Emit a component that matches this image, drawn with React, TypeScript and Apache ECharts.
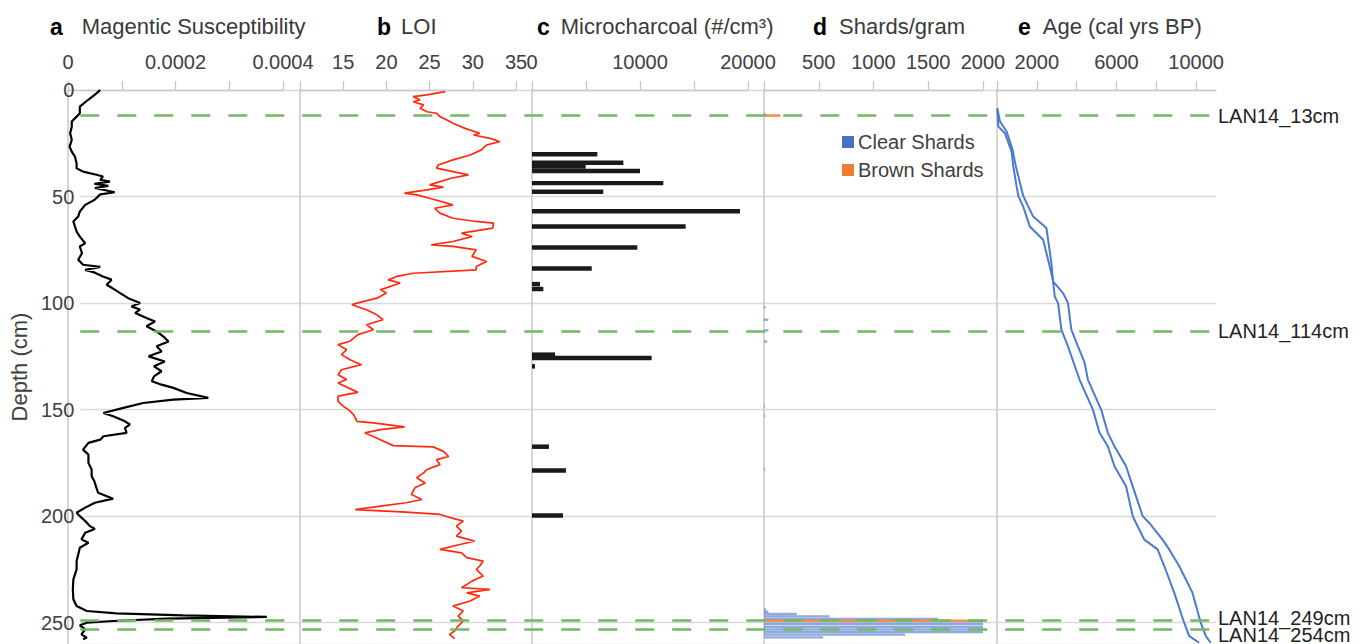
import React, { useEffect, useRef } from 'react';
import * as echarts from 'echarts';

const FONT = "'Liberation Sans', Arial, sans-serif";

// Depth axis
const depthTicks = [0, 50, 100, 150, 200, 250];

// a: Magnetic susceptibility
const msDepth = [0, 1.6, 4.7, 7.8, 10.9, 12.5, 14.8, 17.2, 20.3, 23.4, 26.6, 28.9, 31.3, 34.4, 36.7, 38.3, 39.8, 40.6, 42.2, 43, 44, 45, 46, 48, 49, 51.6, 53.9, 57, 59.4, 61.7, 64.1, 66.4, 68.8, 71.9, 73.4, 76.6, 79.7, 82, 83, 84.4, 85.6, 87.5, 89, 91.4, 93.7, 95.3, 97.7, 100, 101.6, 103, 104.7, 107, 108.6, 110.9, 113.3, 115.6, 118, 120.3, 122.7, 125, 127.4, 129.7, 132, 134.4, 136.7, 138.3, 139.8, 142.2, 144.5, 145.3, 146.9, 149.2, 151.6, 153.1, 155.5, 157, 158.6, 160.9, 162.5, 164.1, 165.6, 168.8, 171.1, 175, 178.1, 181.3, 183.6, 186, 189, 191.8, 193.7, 196, 198.4, 200, 202.3, 204.7, 206, 207.8, 210.9, 212.5, 214.8, 218, 221.1, 225, 229.7, 234.4, 239, 242.2, 244.5, 245.6, 246.6, 247.3, 248.1, 249.2, 250, 251.2, 253.1, 255.5, 257, 257.8];
const msValue = [6.0e-5, 5.3e-5, 3.7e-5, 2.2e-5, 2.2e-5, 1.6e-5, 0.7e-5, 0.7e-5, 0.4e-5, 0.7e-5, 0.3e-5, 0.7e-5, 1.3e-5, 1.6e-5, 1.6e-5, 2.8e-5, 5.3e-5, 6.5e-5, 6.0e-5, 7.8e-5, 4.9e-5, 7.5e-5, 5.0e-5, 8.7e-5, 6.0e-5, 4.9e-5, 3.2e-5, 2.2e-5, 1.9e-5, 1.0e-5, 1.3e-5, 1.6e-5, 2.2e-5, 3.2e-5, 2.2e-5, 2.6e-5, 1.9e-5, 2.8e-5, 6.0e-5, 3.2e-5, 4.9e-5, 6.5e-5, 8.1e-5, 7.2e-5, 8.7e-5, 9.7e-5, 11.2e-5, 13.4e-5, 11.8e-5, 13.4e-5, 12.5e-5, 14.6e-5, 16.2e-5, 14.6e-5, 16.5e-5, 17.7e-5, 18.7e-5, 16.5e-5, 17.4e-5, 15.0e-5, 18.0e-5, 16.0e-5, 17.4e-5, 16.0e-5, 15.6e-5, 17.4e-5, 19.6e-5, 22.1e-5, 26.1e-5, 19.6e-5, 14.0e-5, 10.3e-5, 6.6e-5, 8.4e-5, 10.6e-5, 11.5e-5, 10.6e-5, 10.9e-5, 6.6e-5, 6.0e-5, 3.8e-5, 2.8e-5, 3.8e-5, 3.8e-5, 4.4e-5, 4.4e-5, 4.9e-5, 5.2e-5, 5.6e-5, 8.4e-5, 5.0e-5, 3.2e-5, 1.6e-5, 2.2e-5, 3.2e-5, 4.1e-5, 5.0e-5, 3.2e-5, 2.5e-5, 3.8e-5, 2.2e-5, 1.9e-5, 1.6e-5, 1.6e-5, 1.0e-5, 0.9e-5, 1.0e-5, 1.6e-5, 3.5e-5, 9.0e-5, 21.4e-5, 37.0e-5, 18.4e-5, 8.4e-5, 3.5e-5, 2.2e-5, 3.2e-5, 2.5e-5, 3.5e-5, 2.8e-5];
const msTicks = [0, 0.0001, 0.0002, 0.0003, 0.0004];
const msLabels = [0, 0.0002, 0.0004];

// b: LOI
const loiDepth = [0.8, 2.3, 3.1, 4.7, 5.5, 7.0, 8.6, 10.2, 10.9, 12.5, 14.1, 15.6, 18.0, 20.3, 21.1, 22.7, 24.2, 25.8, 28.1, 30.5, 32.8, 35.2, 36.7, 38.3, 39.8, 41.4, 44.5, 45.6, 46.9, 48.4, 49.2, 50.8, 53.9, 55.5, 57.8, 60.2, 61.7, 62.5, 64.8, 67.2, 68.8, 71.1, 72.7, 73.4, 75.0, 78.1, 80.5, 82.8, 84.4, 86.0, 87.5, 89.1, 90.6, 93.8, 95.3, 97.7, 100.0, 100.8, 103.1, 105.5, 107.8, 110.2, 112.5, 114.8, 117.9, 119.5, 121.9, 124.2, 126.6, 128.9, 131.3, 133.6, 135.9, 137.5, 139.8, 141.9, 143.7, 146.1, 148.4, 150, 152.3, 155.5, 156.2, 158.1, 159.4, 160.9, 164.1, 166.9, 167.5, 169.6, 172, 173.5, 175.8, 178.1, 179.7, 182, 184.4, 186.7, 189.8, 192.2, 193.7, 195.3, 196.9, 198.1, 199.2, 200.8, 202.3, 204.7, 207, 209.4, 211.7, 213.3, 215.6, 217.2, 219.5, 221.1, 223.4, 225, 228.1, 230.5, 233.6, 234.4, 236, 237.5, 239.8, 242.2, 244.5, 246.9, 249.2, 251.6, 253.9, 255.5, 257.5];
const loiValue = [26.8, 24.7, 23.1, 23.9, 23.1, 24.3, 23.9, 24.7, 25.8, 26.2, 27.0, 27.7, 29.1, 30.8, 30.1, 32.0, 33.1, 31.6, 31.0, 29.7, 27.7, 26.0, 25.8, 27.7, 29.5, 27.5, 25.0, 26.6, 24.7, 22.1, 23.5, 25.0, 27.7, 25.6, 26.2, 27.7, 30.4, 32.4, 32.3, 28.7, 29.9, 27.7, 25.2, 27.7, 30.4, 29.9, 31.6, 30.4, 30.4, 23.1, 21.2, 20.2, 21.6, 19.3, 20.0, 18.9, 16.6, 16.0, 17.7, 18.9, 19.6, 17.7, 18.5, 16.7, 15.8, 14.4, 15.4, 14.8, 15.8, 17.1, 14.8, 14.4, 15.4, 14.4, 15.6, 16.7, 14.4, 14.4, 15.0, 15.6, 16.2, 16.6, 18.5, 22.1, 19.3, 17.5, 19.3, 20.8, 25.4, 26.6, 27.2, 25.8, 26.2, 24.7, 24.3, 23.5, 24.5, 23.3, 22.9, 24.1, 22.3, 19.3, 16.4, 22.3, 26.2, 27.5, 28.9, 28.1, 28.7, 28.1, 30.2, 28.5, 26.2, 28.7, 29.3, 31.2, 30.8, 30.4, 31.2, 29.9, 28.7, 32.0, 29.3, 30.8, 29.7, 27.7, 28.9, 28.3, 28.9, 28.3, 27.9, 27.3, 27.9];
const loiTicks = [10, 15, 20, 25, 30, 35];
const loiLabels = [15, 20, 25, 30, 35];

// c: Microcharcoal
const charDepth = [30.2, 34.1, 35.9, 38.0, 43.7, 47.8, 56.9, 64.1, 73.9, 83.8, 91.1, 93.4, 124.2, 125.8, 129.7, 167.4, 178.6, 199.7];
const charValue = [6050, 8460, 4970, 10000, 12160, 6600, 19260, 14230, 9750, 5530, 740, 1050, 2130, 11080, 280, 1570, 3150, 2870];
const charTicks = [0, 5000, 10000, 15000, 20000];
const charLabels = [0, 10000, 20000];

// d: Shards/gram
const clearDepth = [11.5, 102, 107.8, 112.8, 118, 148.5, 153, 178, 243.8, 244.9, 245.9, 247, 248.2, 250.5, 251.9, 253.2, 254.4, 255.6, 256.9];
const clearValue = [20, 15, 40, 40, 30, 10, 10, 10, 20, 40, 300, 600, 1590, 2000, 2000, 2000, 2000, 1290, 540];
const brownDepth = [12, 249.1];
const brownValue = [150, 2000];
const shardTicks = [0, 500, 1000, 1500, 2000];
const shardLabels = [500, 1000, 1500, 2000];

// e: Age model (two bounds)
const youngDepth = [8.6, 17.2, 20.3, 28.9, 35.9, 49.7, 54.7, 59.4, 64.1, 70.3, 82.8, 89.8, 96.9, 100, 112.5, 120.3, 128, 136, 150, 160.9, 167.2, 176.6, 186, 200, 203.2, 211, 215.6, 223.4, 235.9, 250, 256.2, 259.4];
const youngAge = [17, 67, 400, 733, 817, 1067, 1317, 1483, 1650, 2317, 2650, 2817, 2900, 3067, 3233, 3567, 3850, 4150, 4817, 5150, 5567, 5900, 6483, 6817, 6983, 7400, 8067, 8400, 8900, 9400, 9650, 10150];
const oldDepth = [8.6, 14.8, 19.5, 28.1, 35.9, 49.7, 59.4, 64.8, 70.3, 81.3, 89.8, 95.3, 100, 112.5, 120.3, 128, 136, 150, 160.9, 167.2, 176.6, 186, 200, 203.2, 211, 215.6, 223.4, 235.9, 250, 256.2, 259.4];
const oldAge = [17, 150, 483, 783, 950, 1317, 1817, 2483, 2567, 2733, 2817, 3317, 3567, 3733, 4067, 4400, 4567, 5233, 5567, 5900, 6483, 6817, 7317, 7650, 8317, 8650, 9150, 9817, 10233, 10483, 10733];
const ageTicks = [0, 2000, 4000, 6000, 8000, 10000];
const ageLabels = [2000, 6000, 10000];

// Tephra horizons
const tephraDepth = [12, 113, 249, 253];
const tephraName = ['LAN14_13cm', 'LAN14_114cm', 'LAN14_249cm', 'LAN14_254cm'];

// Panel titles
const titleLetters = ['a', 'b', 'c', 'd', 'e'];
const titleNames = ['Magentic Susceptibility', 'LOI', 'Microcharcoal (#/cm³)', 'Shards/gram', 'Age (cal yrs BP)'];

const zip = (xs: number[], ys: number[]) => xs.map((x, i) => [x, ys[i]]);

const AXIS_COLOR = '#c8c8c8';
const TEXT_COLOR = '#404040';

export default function App() {
  const ref = useRef<HTMLDivElement>(null);
  useEffect(() => {
    if (!ref.current) return;
    const chart = echarts.init(ref.current, undefined, { renderer: 'svg' });

    const panels = [
      { left: 68, width: 215, min: 0, max: 0.0004, interval: 0.0001, ticks: msTicks, labels: msLabels },
      { left: 300, width: 216, min: 10, max: 35, interval: 5, ticks: loiTicks, labels: loiLabels },
      { left: 532, width: 216, min: 0, max: 20000, interval: 5000, ticks: charTicks, labels: charLabels },
      { left: 764, width: 219, min: 0, max: 2000, interval: 500, ticks: shardTicks, labels: shardLabels },
      { left: 997, width: 219, min: 0, max: 11000, interval: 2000, ticks: ageTicks, labels: ageLabels },
    ];
    const titleX = [45, 372, 532, 808, 1013];
    const titleGap = [19, 10, 11, 12, 12];

    const fmtLabel = (labels: number[]) => (v: number) => {
      const hit = labels.find((l) => Math.abs(l - v) < 1e-9 + Math.abs(l) * 1e-6);
      if (hit === undefined) return '';
      return String(hit);
    };

    const grids: any[] = [{ left: 68, width: 1148, top: 90, bottom: 0 }];
    const xAxes: any[] = [{ gridIndex: 0, type: 'value', show: false, min: 0, max: 1 }];
    const yAxes: any[] = [{
      gridIndex: 0, type: 'value', inverse: true, min: 0, max: 260, interval: 50,
      axisLine: { show: false }, axisTick: { show: false },
      axisLabel: { fontSize: 20, color: TEXT_COLOR, fontFamily: FONT, margin: 6, formatter: fmtLabel(depthTicks) },
      splitLine: { show: true, lineStyle: { color: '#dadada', width: 1.3 } },
      name: 'Depth (cm)', nameLocation: 'middle', nameGap: 40, nameRotate: 90,
      nameTextStyle: { fontSize: 22, color: TEXT_COLOR, fontFamily: FONT },
    }];
    panels.forEach((p, i) => {
      grids.push({ left: p.left, width: p.width, top: 90, bottom: 0 });
      xAxes.push({
        gridIndex: i + 1, type: 'value', position: 'top', min: p.min, max: p.max, interval: p.interval,
        axisLine: { show: true, lineStyle: { color: AXIS_COLOR, width: 1.3 } },
        axisTick: { show: true, length: 9, customValues: p.ticks, lineStyle: { color: AXIS_COLOR, width: 1.3 } },
        axisLabel: { fontSize: 20, color: TEXT_COLOR, fontFamily: FONT, margin: 18, customValues: p.labels, formatter: fmtLabel(p.labels) },
        splitLine: { show: false },
      });
      yAxes.push({
        gridIndex: i + 1, type: 'value', inverse: true, min: 0, max: 260,
        axisLine: { show: true, onZero: false, lineStyle: { color: AXIS_COLOR, width: 1.5 } },
        axisTick: { show: false }, axisLabel: { show: false }, splitLine: { show: false },
      });
    });

    const barItem = (half: number, color: string, opacity: number) => (params: any, api: any) => {
      const v = api.value(0);
      const d = api.value(1);
      const p0 = api.coord([0, d - half]);
      const p1 = api.coord([v, d + half]);
      return {
        type: 'rect',
        shape: { x: p0[0], y: p0[1], width: p1[0] - p0[0], height: p1[1] - p0[1] },
        style: { fill: color, opacity },
      };
    };

    const option: any = {
      animation: false,
      textStyle: { fontFamily: FONT },
      title: titleLetters.map((l, i) => ({
        text: `{b|${l}}{n|${titleNames[i]}}`,
        left: titleX[i], top: 10,
        textStyle: {
          fontWeight: 'normal',
          rich: {
            b: { fontSize: 23, fontWeight: 'bold', color: '#000', fontFamily: FONT },
            n: { fontSize: 22, fontWeight: 'normal', color: '#3a3a3a', fontFamily: FONT, padding: [0, 0, 0, titleGap[i]] },
          },
        },
      })),
      legend: {
        data: ['Clear Shards', 'Brown Shards'], orient: 'vertical', left: 837, top: 127,
        icon: 'rect', itemWidth: 12, itemHeight: 12, itemGap: 8,
        textStyle: { fontSize: 20, color: TEXT_COLOR, fontFamily: FONT, padding: [0, 0, 0, -1] },
      },
      grid: grids,
      xAxis: xAxes,
      yAxis: yAxes,
      series: [
        {
          type: 'line', xAxisIndex: 0, yAxisIndex: 0, data: [[0, 0]], showSymbol: false, silent: true,
          lineStyle: { opacity: 0 }, z: 5,
          markLine: {
            symbol: 'none', silent: true,
            lineStyle: { color: '#72b865', type: [19, 18], width: 2.5 },
            label: { show: true, position: 'end', fontSize: 20, color: '#222', fontFamily: FONT, distance: 2, formatter: '{b}' },
            data: tephraDepth.map((d, i) => ({
              yAxis: d, name: tephraName[i],
              label: i === 2 ? { offset: [0, -3] } : i === 3 ? { offset: [0, 6] } : {},
            })),
          },
        },
        {
          name: 'Magnetic Susceptibility', type: 'line', xAxisIndex: 1, yAxisIndex: 1,
          data: zip(msValue, msDepth), showSymbol: false, lineStyle: { color: '#000', width: 2.2 },
        },
        {
          name: 'LOI', type: 'line', xAxisIndex: 2, yAxisIndex: 2,
          data: zip(loiValue, loiDepth), showSymbol: false, lineStyle: { color: '#ff2a10', width: 1.7 },
        },
        {
          name: 'Microcharcoal', type: 'custom', xAxisIndex: 3, yAxisIndex: 3, clip: true,
          data: zip(charValue, charDepth), encode: { x: 0, y: 1 },
          itemStyle: { color: '#1a1a1a' },
          renderItem: barItem(1.05, '#1a1a1a', 1),
        },
        {
          name: 'Clear Shards', type: 'custom', xAxisIndex: 4, yAxisIndex: 4, clip: true,
          data: zip(clearValue, clearDepth), encode: { x: 0, y: 1 },
          itemStyle: { color: '#4472C4' },
          renderItem: barItem(0.55, '#4472C4', 0.6),
        },
        {
          name: 'Brown Shards', type: 'custom', xAxisIndex: 4, yAxisIndex: 4, clip: true,
          data: zip(brownValue, brownDepth), encode: { x: 0, y: 1 },
          itemStyle: { color: '#ED7D31' },
          renderItem: barItem(0.6, '#ED7D31', 0.85),
        },
        {
          name: 'Age young', type: 'line', xAxisIndex: 5, yAxisIndex: 5,
          data: zip(youngAge, youngDepth), showSymbol: false, lineStyle: { color: '#4a7bd0', width: 2 },
        },
        {
          name: 'Age old', type: 'line', xAxisIndex: 5, yAxisIndex: 5,
          data: zip(oldAge, oldDepth), showSymbol: false, lineStyle: { color: '#4a7bd0', width: 2 },
        },
      ],
    };
    chart.setOption(option);
    return () => chart.dispose();
  }, []);

  return (
    <div
      ref={ref}
      style={{ position: 'fixed', left: 0, top: 0, width: 1364, height: 644, background: '#fff' }}
    />
  );
}
